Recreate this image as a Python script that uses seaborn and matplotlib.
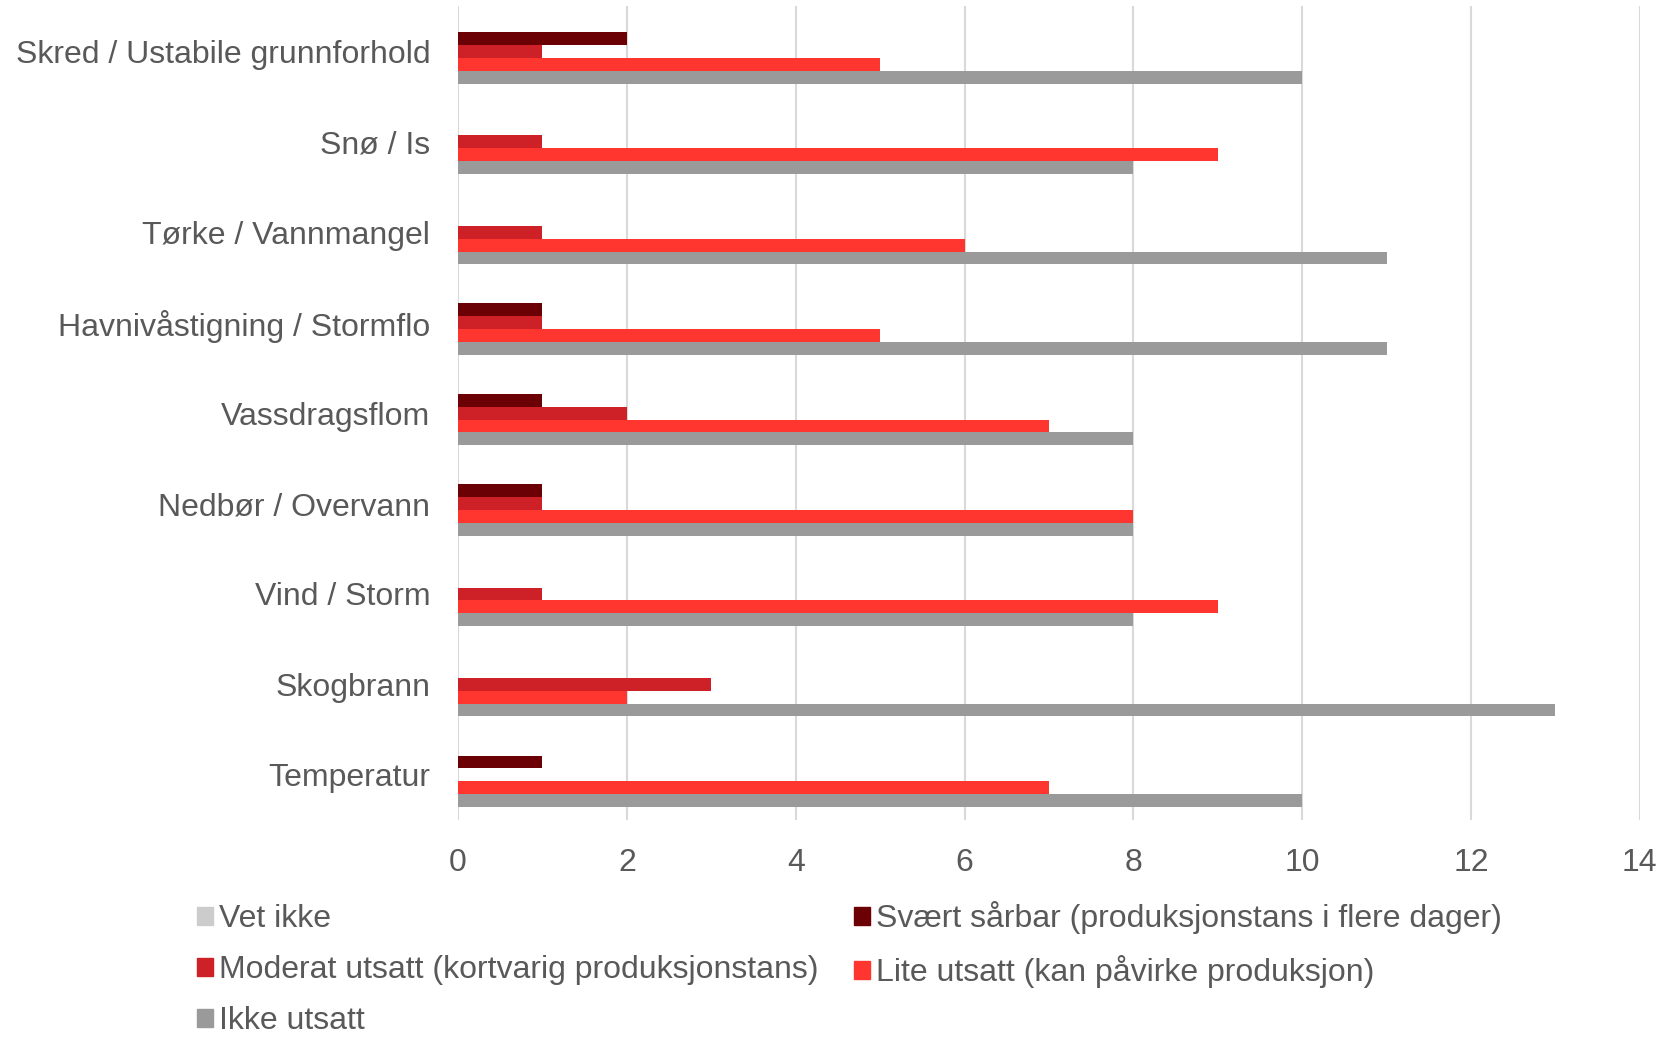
import numpy as np
import pandas as pd
import matplotlib
matplotlib.use("Agg")
import matplotlib.pyplot as plt
import seaborn as sns

# data
categories = ["Skred / Ustabile grunnforhold", "Snø / Is", "Tørke / Vannmangel",
              "Havnivåstigning / Stormflo", "Vassdragsflom", "Nedbør / Overvann",
              "Vind / Storm", "Skogbrann", "Temperatur"]
series = ["Vet ikke",
          "Svært sårbar (produksjonstans i flere dager)",
          "Moderat utsatt (kortvarig produksjonstans)",
          "Lite utsatt (kan påvirke produksjon)",
          "Ikke utsatt"]
vet_ikke = [0, 0, 0, 0, 0, 0, 0, 0, 0]
svaert_saarbar = [2, 0, 0, 1, 1, 1, 0, 0, 1]
moderat_utsatt = [1, 1, 1, 1, 2, 1, 1, 3, 0]
lite_utsatt = [5, 9, 6, 5, 7, 8, 9, 2, 7]
ikke_utsatt = [10, 8, 11, 11, 8, 8, 8, 13, 10]
colors = ["#cccccc", "#6b0005", "#cd2027", "#ff3530", "#9a9a9a"]

values = [vet_ikke, svaert_saarbar, moderat_utsatt, lite_utsatt, ikke_utsatt]
rows = []
for s, vals in zip(series, values):
    for c, v in zip(categories, vals):
        rows.append({"Kategori": c, "Serie": s, "Antall": v})
df = pd.DataFrame(rows)

sns.set_style("white")
plt.rcParams["font.family"] = ["Liberation Sans", "DejaVu Sans"]
text_color = "#595959"

fig = plt.figure(figsize=(16.81, 10.38), dpi=100)
ax = fig.add_axes([0.2725, 0.21, 0.703, 0.784])

sns.barplot(data=df, y="Kategori", x="Antall", hue="Serie", order=categories,
            hue_order=series, palette=colors, orient="h", width=0.71,
            saturation=1, linewidth=0, ax=ax, legend=False)

ax.set_xlim(0, 14)
ax.set_ylim(8.5, -0.5)
ax.set_xticks(range(0, 15, 2))
ax.xaxis.grid(True, color="#d9d9d9", linewidth=1.5)
ax.set_axisbelow(True)
for sp in ax.spines.values():
    sp.set_visible(False)
ax.set_xlabel("")
ax.set_ylabel("")
ax.tick_params(axis="both", length=0, labelsize=23, labelcolor=text_color)
ax.tick_params(axis="x", pad=20)
ax.tick_params(axis="y", pad=20)

# legend, filled column-wise so it reads row-wise like the original
handles = [plt.Rectangle((0, 0), 1, 1, color=c) for c in colors]
order = [0, 2, 4, 1, 3]
leg = fig.legend([handles[i] for i in order], [series[i] for i in order],
                 loc="lower left", bbox_to_anchor=(0.100, -0.026), ncol=2,
                 frameon=False, fontsize=23, handlelength=0.5, handleheight=0.5,
                 handletextpad=0.2, columnspacing=1.1, labelspacing=0.66)
for t in leg.get_texts():
    t.set_color(text_color)

fig.savefig("out.png", dpi=100)
